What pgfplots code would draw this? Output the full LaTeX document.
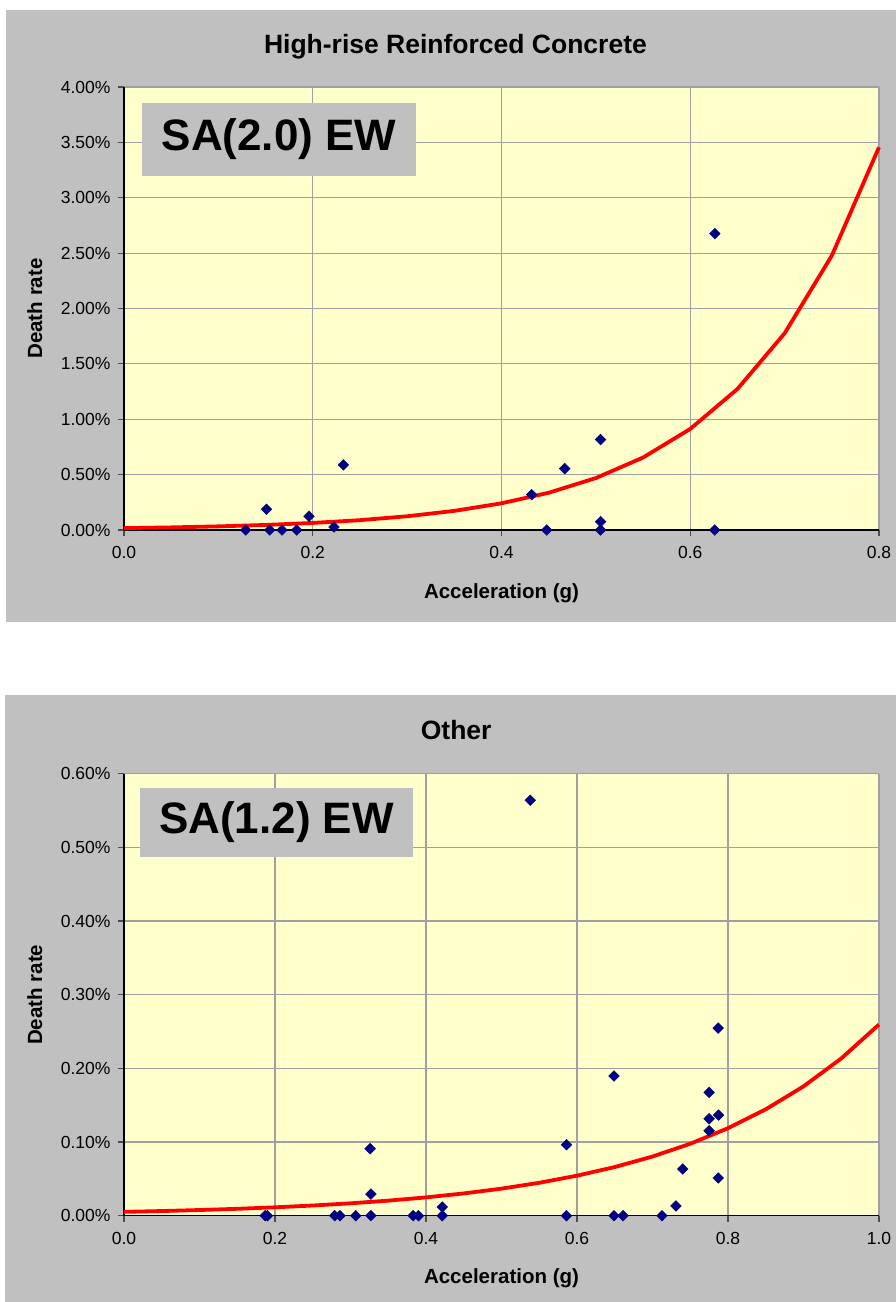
\documentclass[border=0pt]{standalone}
\usepackage{fontspec}
\setmainfont{Liberation Sans}
\usepackage{pgfplots}
\pgfplotsset{compat=1.18}
\definecolor{panelgray}{HTML}{C0C0C0}
\definecolor{plotbg}{HTML}{FFFFCC}
\definecolor{navy}{HTML}{000080}
\definecolor{gridc}{HTML}{A0A0A0}
\pgfplotsset{myaxis/.style={
  scale only axis, width=755pt, anchor=south west, xmin=0, ymin=0, clip=false,
  axis background/.style={fill=plotbg},
  grid=major, grid style={gridc, line width=1.1pt},
  axis x line*=bottom, axis y line*=left,
  axis line style={black, line width=1.1pt, -},
  tick align=outside, tick pos=left, major tick length=6pt,
  tick style={black!70, line width=1.1pt},
  tick label style={font=\fontsize{17.5}{20}\selectfont},
  /pgf/number format/assume math mode=true,
  xticklabel style={/pgf/number format/fixed, /pgf/number format/fixed zerofill, /pgf/number format/precision=1},
  yticklabel={\pgfmathprintnumber[fixed,fixed zerofill,precision=2,assume math mode=true]{\tick}\%},
  xlabel={Acceleration (g)}, ylabel={Death rate},
  label style={font=\bfseries\fontsize{20.5}{24}\selectfont},
  pts/.style={only marks, mark=square*, mark size=3.8pt, color=navy,
     mark options={rotate=45, fill=navy, draw=navy}},
  fit/.style={no marks, red, line width=3.8pt},
}}
\tikzset{ttl/.style={anchor=base, inner sep=0pt, font=\bfseries\fontsize{26.5}{30}\selectfont}}
\begin{document}
\begin{tikzpicture}[x=1pt,y=1pt]
\path (0,0) rectangle (896,1302);
\fill[panelgray] (6,680.3) rectangle (896,1292);
\fill[panelgray] (5,0) rectangle (896,607);
% ---------- top ----------
\begin{axis}[myaxis, at={(124pt,772pt)}, height=443pt,
  xmax=0.8, ymax=4, xtick={0,0.2,...,0.8}, ytick={0,0.5,...,4},
  xlabel style={at={(axis description cs:0.5,-0.1542)}, anchor=base},
  ylabel style={at={(axis description cs:-0.1086,0.5)}, anchor=base},
  xticklabel style={/tikz/yshift=-7pt}, yticklabel style={/tikz/xshift=-4pt}]
\addplot[fit] coordinates {(0,0.0168)(0.05,0.02344)(0.1,0.0327)(0.15,0.04561)(0.2,0.06363)(0.25,0.08876)(0.3,0.12382)(0.35,0.17273)(0.4,0.24096)(0.45,0.33614)(0.5,0.46891)(0.55,0.65413)(0.6,0.91251)(0.65,1.27295)(0.7,1.77577)(0.75,2.4772)(0.8,3.45569)};
\addplot[pts] coordinates {(0.129,0)(0.151,0.187)(0.1545,0)(0.1675,0)(0.183,0)(0.196,0.124)(0.2225,0.027)(0.2325,0.588)
(0.432,0.319)(0.448,0)(0.467,0.554)(0.505,0.817)(0.505,0.075)(0.505,0)(0.626,2.676)(0.626,0)};
\node[ttl] at (axis description cs:0.439,1.0745) {High-rise Reinforced Concrete};
\end{axis}
\fill[panelgray] (142,1126) rectangle (416,1199);
\node[font=\bfseries\fontsize{44}{50}\selectfont] at (279,1162.5) {SA(2.0) EW};
% ---------- bottom ----------
\begin{axis}[myaxis, at={(124pt,86.3pt)}, height=442pt,
  xmax=1, ymax=0.6, xtick={0,0.2,...,1.0}, ytick={0,0.1,...,0.6},
  xlabel style={at={(axis description cs:0.5,-0.153)}, anchor=base},
  ylabel style={at={(axis description cs:-0.1086,0.5)}, anchor=base},
  xticklabel style={/tikz/yshift=-7pt}, yticklabel style={/tikz/xshift=-4pt}]
\addplot[fit] coordinates {(0,0.0052)(0.05,0.00632)(0.1,0.00769)(0.15,0.00935)(0.2,0.01137)(0.25,0.01382)(0.3,0.01681)(0.35,0.02044)(0.4,0.02485)(0.45,0.03022)(0.5,0.03674)(0.55,0.04467)(0.6,0.05432)(0.65,0.06605)(0.7,0.08031)(0.75,0.09765)(0.8,0.11873)(0.85,0.14437)(0.9,0.17554)(0.95,0.21344)(1.0,0.25953)};
\addplot[pts] coordinates {(0.187,0)(0.190,0)(0.279,0)(0.286,0)(0.307,0)(0.326,0.0909)(0.327,0.0294)(0.327,0)(0.383,0)(0.390,0)(0.4216,0.0118)(0.4216,0)
(0.538,0.564)(0.586,0.0963)(0.586,0)(0.649,0.1896)(0.649,0)(0.661,0)(0.7126,0)(0.731,0.0132)(0.740,0.0634)(0.775,0.1674)(0.775,0.1316)(0.7875,0.1366)(0.775,0.1153)(0.787,0.2547)(0.787,0.0512)};
\node[ttl] at (axis description cs:0.44,1.0780) {Other};
\end{axis}
\fill[panelgray] (140,445) rectangle (413,514);
\node[font=\bfseries\fontsize{44}{50}\selectfont] at (276.5,479.5) {SA(1.2) EW};
\end{tikzpicture}
\end{document}
